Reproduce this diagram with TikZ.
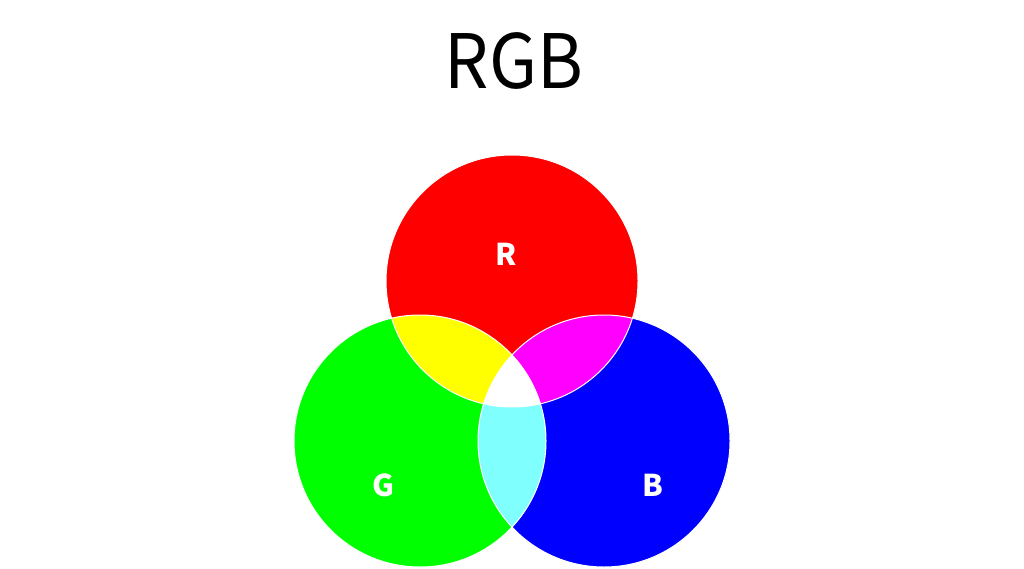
\documentclass[tikz,border=0pt]{standalone}
\usepackage{fontspec}
\newfontfamily\jpfont{Noto Sans CJK JP}
\newfontfamily\ttlfont[FakeStretch=0.93]{Noto Sans CJK JP}
\definecolor{cR}{HTML}{FF0000}
\definecolor{cG}{HTML}{00FF00}
\definecolor{cB}{HTML}{0000FF}
\definecolor{cY}{HTML}{FFFF00}
\definecolor{cM}{HTML}{FF00FF}
\definecolor{cC}{HTML}{80FFFF}
\tikzset{
  lbl/.style={text=white, font=\jpfont\bfseries\fontsize{30}{30}\selectfont, inner sep=0pt},
  ttl/.style={text=black, font=\ttlfont\fontsize{75}{75}\selectfont, inner sep=0pt},
  edge/.style={draw=white, line width=1pt}
}
\begin{document}
\begin{tikzpicture}[x=1pt,y=-1pt]
\useasboundingbox[fill=white] (0,0) rectangle (1024,569);
\coordinate (cr) at (512,281);
\coordinate (cg) at (420,441);
\coordinate (cb) at (604,441);
\def\rad{126}
% base circles
\fill[cR] (cr) circle (\rad);
\fill[cG] (cg) circle (\rad);
\fill[cB] (cb) circle (\rad);
% pair overlaps
\begin{scope}
  \clip (cr) circle (\rad);
  \fill[cY] (cg) circle (\rad);
  \fill[cM] (cb) circle (\rad);
\end{scope}
\begin{scope}
  \clip (cg) circle (\rad);
  \fill[cC] (cb) circle (\rad);
\end{scope}
\begin{scope}
  \clip (cr) circle (\rad);
  \clip (cg) circle (\rad);
  \fill[white] (cb) circle (\rad);
\end{scope}
% white outlines
\draw[edge] (cr) circle (\rad);
\draw[edge] (cg) circle (\rad);
\draw[edge] (cb) circle (\rad);
% labels
\node[lbl] (lr) at (506,254) {R};
\node[lbl] (lg) at (383,485) {G};
\node[lbl] (lb) at (653,485) {B};
\node[ttl] (title) at (514,61) {RGB};
\end{tikzpicture}
\end{document}
